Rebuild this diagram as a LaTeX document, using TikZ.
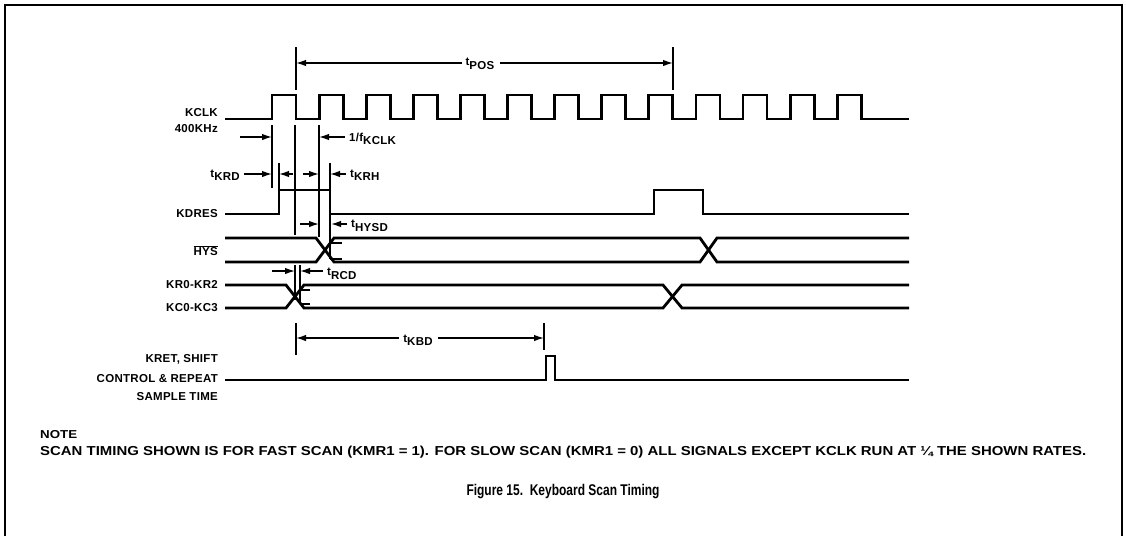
\documentclass[tikz,border=0pt]{standalone}
\usepackage{fontspec}
\setmainfont{Liberation Sans}
\newfontfamily\lab[LetterSpace=2.5]{Liberation Sans}
\usetikzlibrary{arrows.meta}
\tikzset{
 sig/.style={line width=2.8pt, line join=miter},
 dimline/.style={line width=1.4pt},
 arr/.style={dimline,-{Latex[length=10pt,width=6.5pt]}},
 lbl/.style={font=\lab\bfseries\fontsize{11.5}{12}\selectfont, inner sep=0pt},
 frameline/.style={line width=1.6pt}
}
\newcommand\tsub[1]{t\raisebox{-3.5pt}{#1}}
\begin{document}
\begin{tikzpicture}[x=1pt,y=-1pt]
\useasboundingbox (0,0) rectangle (1126,536);
\draw[frameline] (5,536) -- (5,5) -- (1122,5) -- (1122,536);

% signals
\draw[sig] (225,119) \foreach \i in {0,...,12} { -- ({272+47.1*\i},119) -- ++(0,-24) -- ++(24,0) -- ++(0,24) } -- (909,119);
\draw[sig] (225,214) -- (279,214) -- (279,190) -- (330,190) -- (330,214) -- (654,214) -- (654,190) -- (703,190) -- (703,214) -- (909,214);
\draw[sig] (225,238) -- (316,238) -- (334,262) -- (700,262) -- (717,238) -- (909,238);
\draw[sig] (225,262) -- (316,262) -- (334,238) -- (700,238) -- (717,262) -- (909,262);
\draw[sig] (225,285) -- (286,285) -- (304,308) -- (663,308) -- (682,285) -- (909,285);
\draw[sig] (225,308) -- (286,308) -- (304,285) -- (663,285) -- (682,308) -- (909,308);
\draw[sig] (225,380) -- (546,380) -- (546,356) -- (555,356) -- (555,380) -- (909,380);

% signal labels
\node[lbl,anchor=east] (kclk) at (218,113) {KCLK};
\node[lbl,anchor=east] (khz) at (218,129) {400KHz};
\node[lbl,anchor=east] (kdres) at (218,214) {KDRES};
\node[lbl,anchor=east] (hys) at (218,251) {$\overline{\mbox{HYS}}$};
\node[lbl,anchor=east] (kr) at (218,285) {KR0-KR2};
\node[lbl,anchor=east] (kc) at (218,308) {KC0-KC3};
\node[lbl,anchor=east] (kret) at (218,359) {KRET, SHIFT};
\node[lbl,anchor=east] (ctrl) at (218,379) {CONTROL \& REPEAT};
\node[lbl,anchor=east] (samp) at (218,397) {SAMPLE TIME};

% reference lines
\coordinate (p1) at (296,47); \coordinate (p1b) at (296,90);
\coordinate (p2) at (673,47); \coordinate (p2b) at (673,90);
\draw[dimline] (p1) -- (p1b); \draw[dimline] (p2) -- (p2b);
\draw[dimline] (272,125) -- (272,188);
\draw[dimline] (295,125) -- (295,235);
\draw[dimline] (319,125) -- (319,237);
\draw[dimline] (279,163) -- (279,190);
\draw[dimline] (330,163) -- (330,259);
\draw[dimline] (330,243) -- (342,243);
\draw[dimline] (330,259) -- (342,259);
\draw[dimline] (295,265) -- (295,300);
\draw[dimline] (300,265) -- (300,304);
\draw[dimline] (300,290) -- (310,290);
\draw[dimline] (300,304) -- (310,304);
\draw[dimline] (296,323) -- (296,355);
\draw[dimline] (544,323) -- (544,350);

% tPOS
\node[lbl] (tpos) at (480,64) {\tsub{POS}};
\draw[arr] (tpos.west) ++(-3,-1) -- (296,63);
\draw[arr] (tpos.east) ++(5,-1) -- (673,63);
% 1/fKCLK
\draw[arr] (240,137) -- (272,137);
\draw[arr] (345,137) -- (319,137);
\node[lbl,anchor=west] (fk) at (349,139) {1/f\raisebox{-3.5pt}{KCLK}};
% tKRD / tKRH
\node[lbl,anchor=east] (tkrd) at (240,175) {\tsub{KRD}};
\draw[arr] (244,174) -- (272,174);
\draw[arr] (293,174) -- (279,174);
\draw[arr] (303,174) -- (319,174);
\draw[arr] (346,174) -- (330,174);
\node[lbl,anchor=west] (tkrh) at (350,175) {\tsub{KRH}};
% tHYSD
\draw[arr] (300,224) -- (319,224);
\draw[arr] (347,224) -- (331,224);
\node[lbl,anchor=west] (thysd) at (351,226) {\tsub{HYSD}};
% tRCD
\draw[arr] (272,271) -- (295,271);
\draw[arr] (323,271) -- (300,271);
\node[lbl,anchor=west] (trcd) at (327,274) {\tsub{RCD}};
% tKBD
\node[lbl] (tkbd) at (418,340) {\tsub{KBD}};
\draw[arr] (tkbd.west) ++(-4,-2) -- (296,338);
\draw[arr] (tkbd.east) ++(5,-2) -- (544,338);

% note and caption
\node[anchor=base west,inner sep=0pt,font=\bfseries\fontsize{11.5}{12}\selectfont] (note) at (40,438) {\resizebox{37pt}{\height}{NOTE}};
\node[anchor=base west,inner sep=0pt,font=\bfseries\fontsize{13}{14}\selectfont] (notetext) at (40,455) {\resizebox{1046pt}{\height}{SCAN TIMING SHOWN IS FOR FAST SCAN (KMR1 = 1). FOR SLOW SCAN (KMR1 = 0) ALL SIGNALS EXCEPT KCLK RUN AT ¼ THE SHOWN RATES.}};
\node[inner sep=0pt,font=\bfseries\fontsize{15.5}{17}\selectfont] (cap) at (563,492) {\resizebox{193pt}{\height}{Figure 15.\ \ Keyboard Scan Timing}};
\end{tikzpicture}
\end{document}
